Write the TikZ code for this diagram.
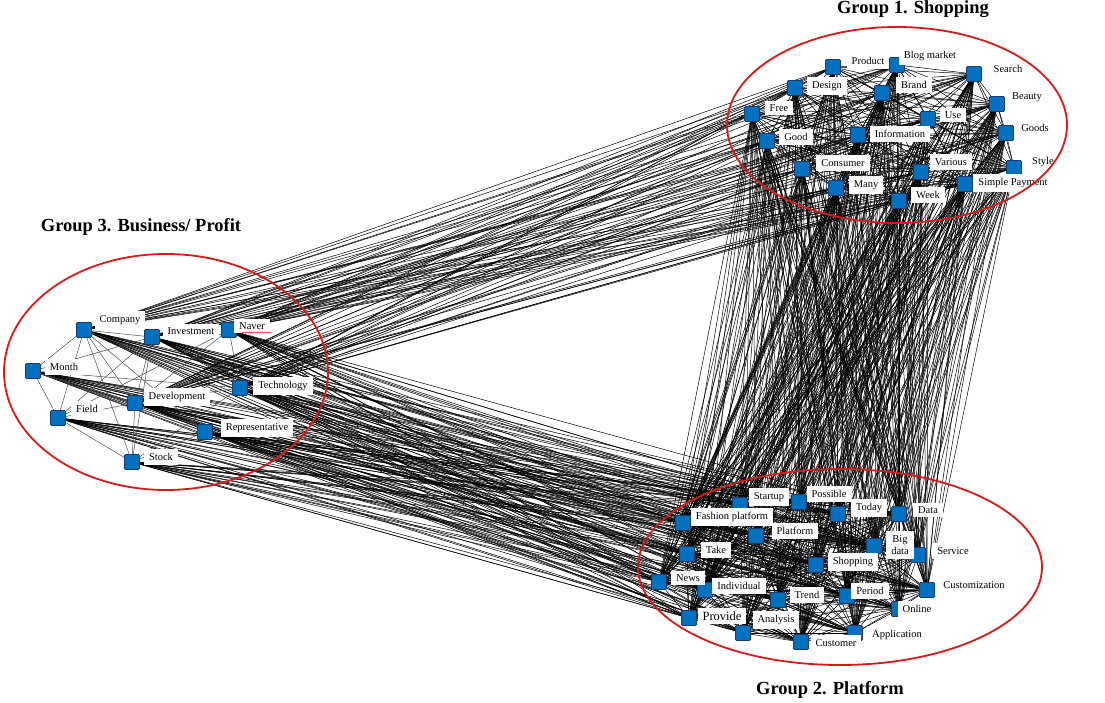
\documentclass[tikz,border=0pt]{standalone}
\usepackage{fontspec}
\setmainfont{Liberation Serif}
\usetikzlibrary{decorations.pathmorphing}
\definecolor{sqblue}{RGB}{0,112,192}
\definecolor{sqedge}{RGB}{25,60,110}
\definecolor{ringred}{RGB}{220,25,25}
\tikzset{
  sq/.style={draw=sqedge,fill=sqblue,line width=0.6pt,minimum size=15pt,inner sep=0pt,rounded corners=1pt},
  lab/.style={fill=white,inner xsep=5pt,inner ysep=4pt,font=\fontsize{10.5}{11.5}\selectfont,align=center},
  edge/.style={black,line width=0.5pt},
  ring/.style={draw=ringred,line width=1.8pt},
  title/.style={font=\bfseries\fontsize{18.5}{21}\selectfont}
}
\begin{document}
\begin{tikzpicture}[x=1pt,y=-1pt]
\useasboundingbox (0,0) rectangle (1105,703);
% ---------- squares ----------
% Group 1
\node[sq] (product) at (833,67) {};
\node[sq] (blog) at (897,65) {};
\node[sq] (search) at (974,74) {};
\node[sq] (design) at (795,88) {};
\node[sq] (brand) at (882,93) {};
\node[sq] (free) at (752,114) {};
\node[sq] (beauty) at (997,104) {};
\node[sq] (use) at (928,119) {};
\node[sq] (good) at (767,141) {};
\node[sq] (info) at (858,135) {};
\node[sq] (goods) at (1006,133) {};
\node[sq] (consumer) at (802,169) {};
\node[sq] (various) at (921,172) {};
\node[sq] (style) at (1014,168) {};
\node[sq] (many) at (836,188) {};
\node[sq] (week) at (899,201) {};
\node[sq] (simple) at (965,184) {};
% Group 3
\node[sq] (company) at (84,330) {};
\node[sq] (investment) at (152,337) {};
\node[sq] (naver) at (229,330) {};
\node[sq] (month) at (33,371) {};
\node[sq] (technology) at (240,388) {};
\node[sq] (development) at (135,403) {};
\node[sq] (field) at (58,418) {};
\node[sq] (representative) at (205,432) {};
\node[sq] (stock) at (132,462) {};
% Group 2
\node[sq] (startup) at (740,505) {};
\node[sq] (possible) at (799,502) {};
\node[sq] (fashion) at (683,523) {};
\node[sq] (today) at (838,514) {};
\node[sq] (data) at (899,514) {};
\node[sq] (platform) at (756,536) {};
\node[sq] (bigdata) at (874,546) {};
\node[sq] (service) at (918,555) {};
\node[sq] (take) at (687,554) {};
\node[sq] (shopping) at (816,565) {};
\node[sq] (news) at (659,582) {};
\node[sq] (individual) at (705,590) {};
\node[sq] (custom) at (927,590) {};
\node[sq] (trend) at (778,600) {};
\node[sq] (period) at (847,596) {};
\node[sq] (online) at (899,609) {};
\node[sq] (provide) at (689,618) {};
\node[sq] (analysis) at (743,633) {};
\node[sq] (customer) at (801,642) {};
\node[sq] (application) at (855,633) {};
% ---------- edges ----------
\foreach \a in {company,investment,naver,technology,development} {
  \foreach \b in {product,blog,search,design,brand,free,beauty,use,good,info,goods,consumer,various,style,many,week,simple} {
    \draw[edge] (\a) -- (\b);
  }
}
\foreach \a in {company,investment,naver,month,technology,development,field,representative,stock} {
  \foreach \b in {startup,possible,fashion,today,data,platform,bigdata,service,take,shopping,news,individual,custom,trend,period,online,provide,analysis,customer,application} {
    \draw[edge] (\a) -- (\b);
  }
}
\foreach \a in {product,blog,search,design,brand,free,beauty,use,good,info,goods,consumer,various,style,many,week,simple} {
  \foreach \b in {startup,possible,fashion,today,data,platform,bigdata,service,take,shopping,news,individual,custom,trend,period,online,provide,analysis,customer,application} {
    \draw[edge] (\a) -- (\b);
  }
}
\foreach \a [count=\i] in {product,blog,search,design,brand,free,beauty,use,good,info,goods,consumer,various,style,many,week,simple} {
  \foreach \b [count=\j] in {product,blog,search,design,brand,free,beauty,use,good,info,goods,consumer,various,style,many,week,simple} {
    \ifnum\j>\i \draw[edge] (\a) -- (\b); \fi
  }
}
\foreach \a [count=\i] in {startup,possible,fashion,today,data,platform,bigdata,service,take,shopping,news,individual,custom,trend,period,online,provide,analysis,customer,application} {
  \foreach \b [count=\j] in {startup,possible,fashion,today,data,platform,bigdata,service,take,shopping,news,individual,custom,trend,period,online,provide,analysis,customer,application} {
    \ifnum\j>\i \draw[edge] (\a) -- (\b); \fi
  }
}
\foreach \a/\b in {company/month,company/field,company/development,company/stock,company/investment,company/technology,company/representative,
  investment/development,investment/field,investment/stock,investment/month,naver/development,naver/field,naver/technology,
  month/field,month/development,month/representative,field/stock,field/development,development/stock,development/technology,
  representative/stock,technology/stock,month/technology} {
  \draw[black!70,line width=0.5pt] (\a) -- (\b);
}
% redraw squares on top
\foreach \n in {product,blog,search,design,brand,free,beauty,use,good,info,goods,consumer,various,style,many,week,simple,
  company,investment,naver,month,technology,development,field,representative,stock,
  startup,possible,fashion,today,data,platform,bigdata,service,take,shopping,news,individual,custom,trend,period,online,provide,analysis,customer,application} {
  \fill[sqblue,draw=sqedge,line width=0.6pt,rounded corners=1pt] ([xshift=-7.5pt,yshift=-7.5pt]\n.center) rectangle ([xshift=7.5pt,yshift=7.5pt]\n.center);
}
% ---------- labels ----------
\node[lab] (lproduct) at (868,61) {Product};
\node[lab] (lblog) at (930,56) {Blog market};
\node[lab] (lsearch) at (1008,69) {Search};
\node[lab] (ldesign) at (827,86) {Design};
\node[lab] (lbrand) at (914,85) {Brand};
\node[lab] (lfree) at (779,108) {Free};
\node[lab] (lbeauty) at (1027,97) {Beauty};
\node[lab] (luse) at (953,115) {Use};
\node[lab] (lgood) at (796,137) {Good};
\node[lab] (linfo) at (900,134) {Information};
\node[lab] (lgoods) at (1035,128) {Goods};
\node[lab] (lconsumer) at (843,163) {Consumer};
\node[lab] (lvarious) at (951,162) {Various};
\node[lab] (lstyle) at (1043,162) {Style};
\node[lab] (lmany) at (866,185) {Many};
\node[lab] (lweek) at (928,195) {Week};
\node[lab] (lsimple) at (1013,183) {Simple Payment};
\node[lab] (lcompany) at (120,320) {Company};
\node[lab] (linvestment) at (191,331) {Investment};
\node[lab] (lnaver) at (252,326) {Naver};
\node[lab] (lmonth) at (64,367) {Month};
\node[lab] (ltechnology) at (283,386) {Technology};
\node[lab] (ldevelopment) at (177,397) {Development};
\node[lab] (lfield) at (87,409) {Field};
\node[lab] (lrepresentative) at (257,428) {Representative};
\node[lab] (lstock) at (161,457) {Stock};
\draw[ringred,line width=0.5pt,decorate,decoration={snake,amplitude=0.6pt,segment length=2.2pt}] (242,332.5) -- (271,332.5);
\node[lab] (lstartup) at (769,497) {Startup};
\node[lab] (lpossible) at (829,494) {Possible};
\node[lab] (lfashion) at (732,517) {Fashion platform};
\node[lab] (ltoday) at (869,508) {Today};
\node[lab] (ldata) at (928,510) {Data};
\node[lab] (lplatform) at (795,531) {Platform};
\node[lab,font=\fontsize{10.5}{12}\selectfont] (lbigdata) at (900,545) {Big\\data};
\node[lab] (lservice) at (953,551) {Service};
\node[lab] (ltake) at (716,550) {Take};
\node[lab] (lshopping) at (853,562) {Shopping};
\node[lab] (lnews) at (688,578) {News};
\node[lab] (lindividual) at (739,586) {Individual};
\node[lab] (lcustom) at (974,585) {Customization};
\node[lab] (ltrend) at (807,595) {Trend};
\node[lab] (lperiod) at (870,591) {Period};
\node[lab] (lonline) at (917,609) {Online};
\node[lab,font=\fontsize{12.5}{13}\selectfont] (lprovide) at (722,616) {Provide};
\node[lab] (lanalysis) at (776,620) {Analysis};
\node[lab] (lcustomer) at (836,643) {Customer};
\node[lab] (lapplication) at (897,635) {Application};
% ---------- rings ----------
\draw[ring] (897,125) ellipse [x radius=170, y radius=98];
\draw[ring] (166,372) ellipse [x radius=162, y radius=118];
\draw[ring] (840,567) ellipse [x radius=202, y radius=98];
% ---------- titles ----------
\node[title] (t1) at (913,9) {Group 1. Shopping};
\node[title] (t3) at (141,227) {Group 3. Business/ Profit};
\node[title] (t2) at (830,690) {Group 2. Platform};
\end{tikzpicture}
\end{document}
